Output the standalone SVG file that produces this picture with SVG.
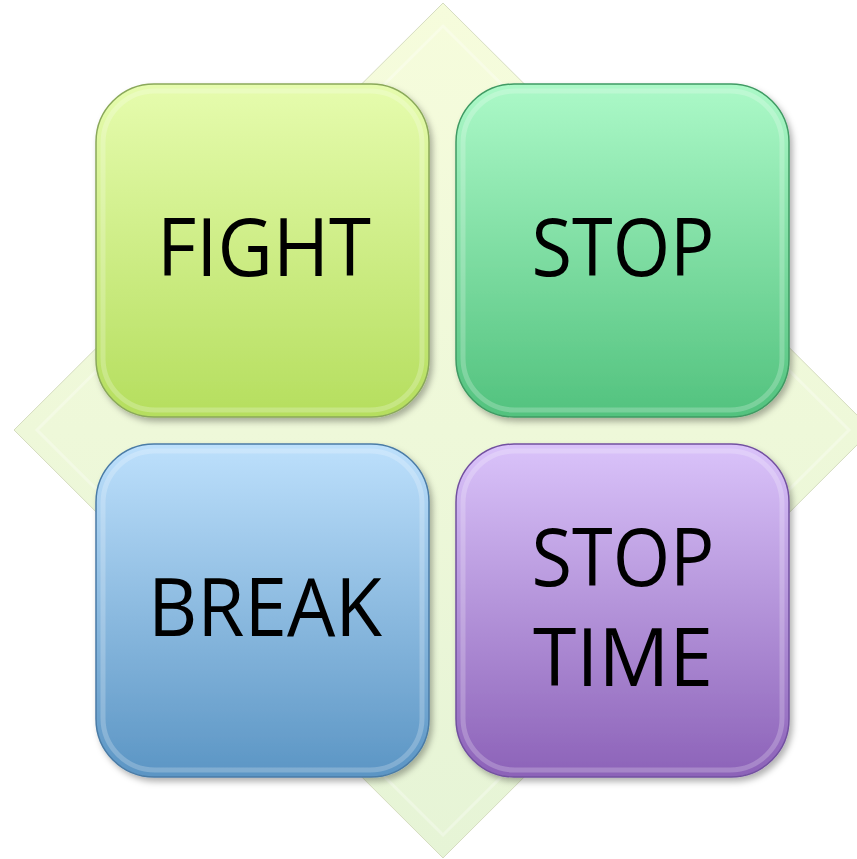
<svg xmlns="http://www.w3.org/2000/svg" width="857" height="859" viewBox="0 0 857 859">
<style>
.lbl{font-family:"Open Sans","Liberation Sans",sans-serif;font-size:80px;fill:#000;text-anchor:middle}
.rim{fill:none;stroke:#fff;stroke-opacity:0.22;stroke-width:5}
</style>
<defs>
<linearGradient id="dia" x1="0" y1="0" x2="0" y2="1"><stop offset="0" stop-color="#f6fcdc"/><stop offset="1" stop-color="#e6f4d6"/></linearGradient>
<linearGradient id="gG" x1="0" y1="0" x2="0" y2="1"><stop offset="0" stop-color="#e6fcae"/><stop offset="1" stop-color="#b5de5e"/></linearGradient>
<linearGradient id="gS" x1="0" y1="0" x2="0" y2="1"><stop offset="0" stop-color="#acf9c8"/><stop offset="1" stop-color="#52c27e"/></linearGradient>
<linearGradient id="gB" x1="0" y1="0" x2="0" y2="1"><stop offset="0" stop-color="#bde0fc"/><stop offset="1" stop-color="#5b95c4"/></linearGradient>
<linearGradient id="gP" x1="0" y1="0" x2="0" y2="1"><stop offset="0" stop-color="#dac3fa"/><stop offset="1" stop-color="#8c62b8"/></linearGradient>
<filter id="sh" x="-10%" y="-10%" width="125%" height="125%"><feDropShadow dx="3" dy="4" stdDeviation="3" flood-color="#000" flood-opacity="0.3"/></filter>
</defs>
<g id="diamond">
<polygon points="443,3 872,430 443,858 14,430" fill="url(#dia)" stroke="#d5dcc0" stroke-width="1"/>
<polygon points="443,26 849,430 443,835 37,430" fill="none" stroke="#ffffff" stroke-opacity="0.3" stroke-width="3"/>
</g>
<g id="fight" filter="url(#sh)">
<rect x="96" y="84" width="333" height="333" rx="58" fill="url(#gG)" stroke="#8aa85a" stroke-width="1.5"/>
<rect x="103" y="91" width="319" height="319" rx="52" class="rim"/>
<text class="lbl" x="264" y="276" textLength="214" lengthAdjust="spacingAndGlyphs">FIGHT</text>
</g>
<g id="stop" filter="url(#sh)">
<rect x="456" y="84" width="333" height="333" rx="58" fill="url(#gS)" stroke="#3f9a63" stroke-width="1.5"/>
<rect x="463" y="91" width="319" height="319" rx="52" class="rim"/>
<text class="lbl" x="623" y="276" textLength="183" lengthAdjust="spacingAndGlyphs">STOP</text>
</g>
<g id="break" filter="url(#sh)">
<rect x="96" y="444" width="333" height="333" rx="58" fill="url(#gB)" stroke="#4a7ba6" stroke-width="1.5"/>
<rect x="103" y="451" width="319" height="319" rx="52" class="rim"/>
<text class="lbl" x="265" y="636" textLength="234" lengthAdjust="spacingAndGlyphs">BREAK</text>
</g>
<g id="stoptime" filter="url(#sh)">
<rect x="456" y="444" width="333" height="333" rx="58" fill="url(#gP)" stroke="#7250a0" stroke-width="1.5"/>
<rect x="463" y="451" width="319" height="319" rx="52" class="rim"/>
<text class="lbl" x="623" y="586" textLength="183" lengthAdjust="spacingAndGlyphs">STOP</text>
<text class="lbl" x="623" y="686" textLength="180" lengthAdjust="spacingAndGlyphs">TIME</text>
</g>
<g id="connectors"/>
</svg>
